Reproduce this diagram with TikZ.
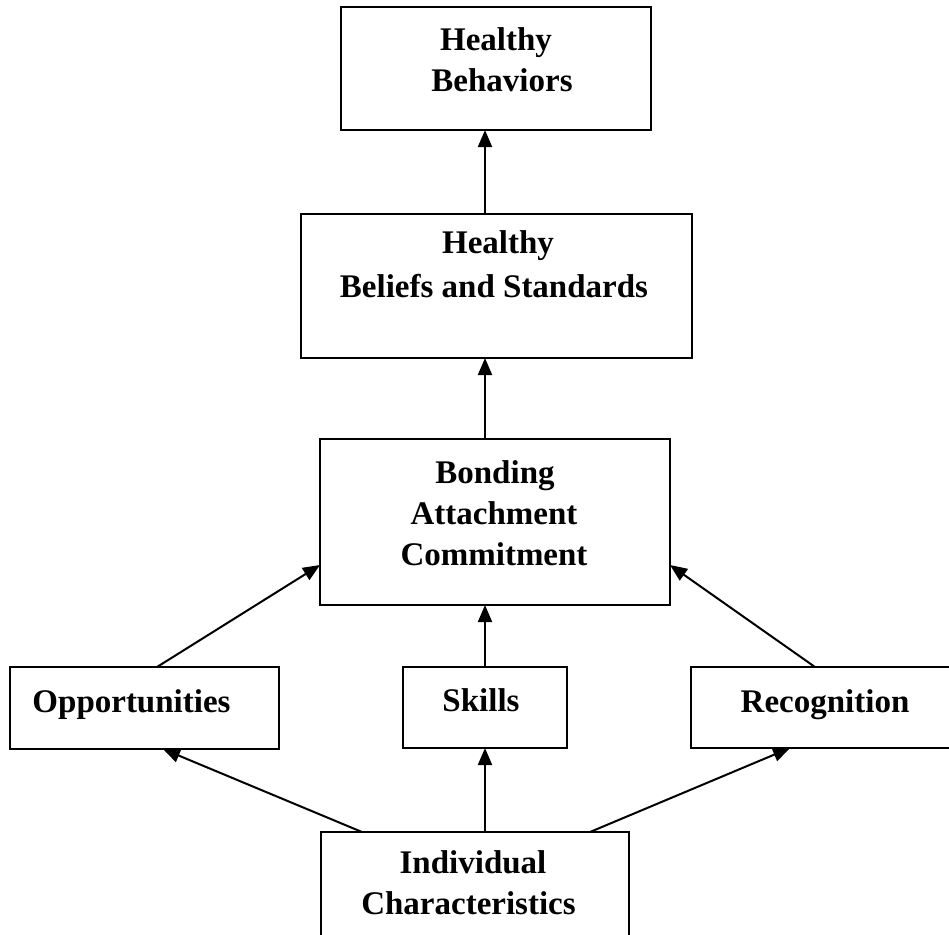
\documentclass[tikz,border=0pt]{standalone}
\usepackage{fontspec}
\setmainfont{Liberation Serif}
\usetikzlibrary{arrows.meta}
\begin{document}
\begin{tikzpicture}[x=1pt,y=-1pt,
  box/.style={draw=black,line width=2pt,rectangle,inner sep=0pt,outer sep=0pt},
  lbl/.style={anchor=base,inner sep=0pt,outer sep=0pt,font=\fontsize{33}{41}\selectfont\bfseries},
  arr/.style={line width=2pt,-{Triangle[length=17pt,width=14pt]}}]
\useasboundingbox (0,0) rectangle (949,934);
\clip (0,0) rectangle (949,934);
\fill[white] (0,0) rectangle (949,934);
% boxes
\node[box,minimum width=310pt,minimum height=123pt] (behav) at (496,68.5) {};
\node[box,minimum width=391pt,minimum height=144pt] (beliefs) at (496.5,286) {};
\node[box,minimum width=350pt,minimum height=166pt] (bond) at (495,522) {};
\node[box,minimum width=269pt,minimum height=82pt] (opp) at (144.5,708) {};
\node[box,minimum width=164pt,minimum height=81pt] (skills) at (485,707.5) {};
\node[box,minimum width=279pt,minimum height=81pt] (recog) at (830.5,707.5) {};
\node[box,minimum width=308pt,minimum height=138pt] (indiv) at (475,901) {};
% labels
\node[lbl] (behavA) at (496,50) {Healthy};
\node[lbl] (behavB) at (502,91) {Behaviors};
\node[lbl] (beliefsA) at (498,253) {Healthy};
\node[lbl] (beliefsB) at (494,297) {Beliefs and Standards};
\node[lbl] (bondA) at (495,483) {Bonding};
\node[lbl] (bondB) at (494,524) {Attachment};
\node[lbl] (bondC) at (494,565) {Commitment};
\node[lbl] (oppA) at (131.5,712) {Opportunities};
\node[lbl] (skillsA) at (481,711) {Skills};
\node[lbl] (recogA) at (825,712) {Recognition};
\node[lbl] (indivA) at (473,873) {Individual};
\node[lbl] (indivB) at (468.5,914) {Characteristics};
% connectors
\draw[arr] (beliefs.north -| skills.center) -- (behav.south -| skills.center);
\draw[arr] (bond.north -| skills.center) -- (beliefs.south -| skills.center);
\draw[arr] (skills.north) -- (bond.south -| skills.north);
\draw[arr] (indiv.north -| skills.south) -- (skills.south);
\draw[arr] ([xshift=147pt]opp.north west) -- ([yshift=-43pt]bond.west);
\draw[arr] ([xshift=124pt]recog.north west) -- ([yshift=-43pt]bond.east);
\draw[arr] ([xshift=41pt]indiv.north west) -- ([xshift=153pt]opp.south west);
\draw[arr] ([xshift=-39pt]indiv.north east) -- ([xshift=99pt]recog.south west);
\end{tikzpicture}
\end{document}
